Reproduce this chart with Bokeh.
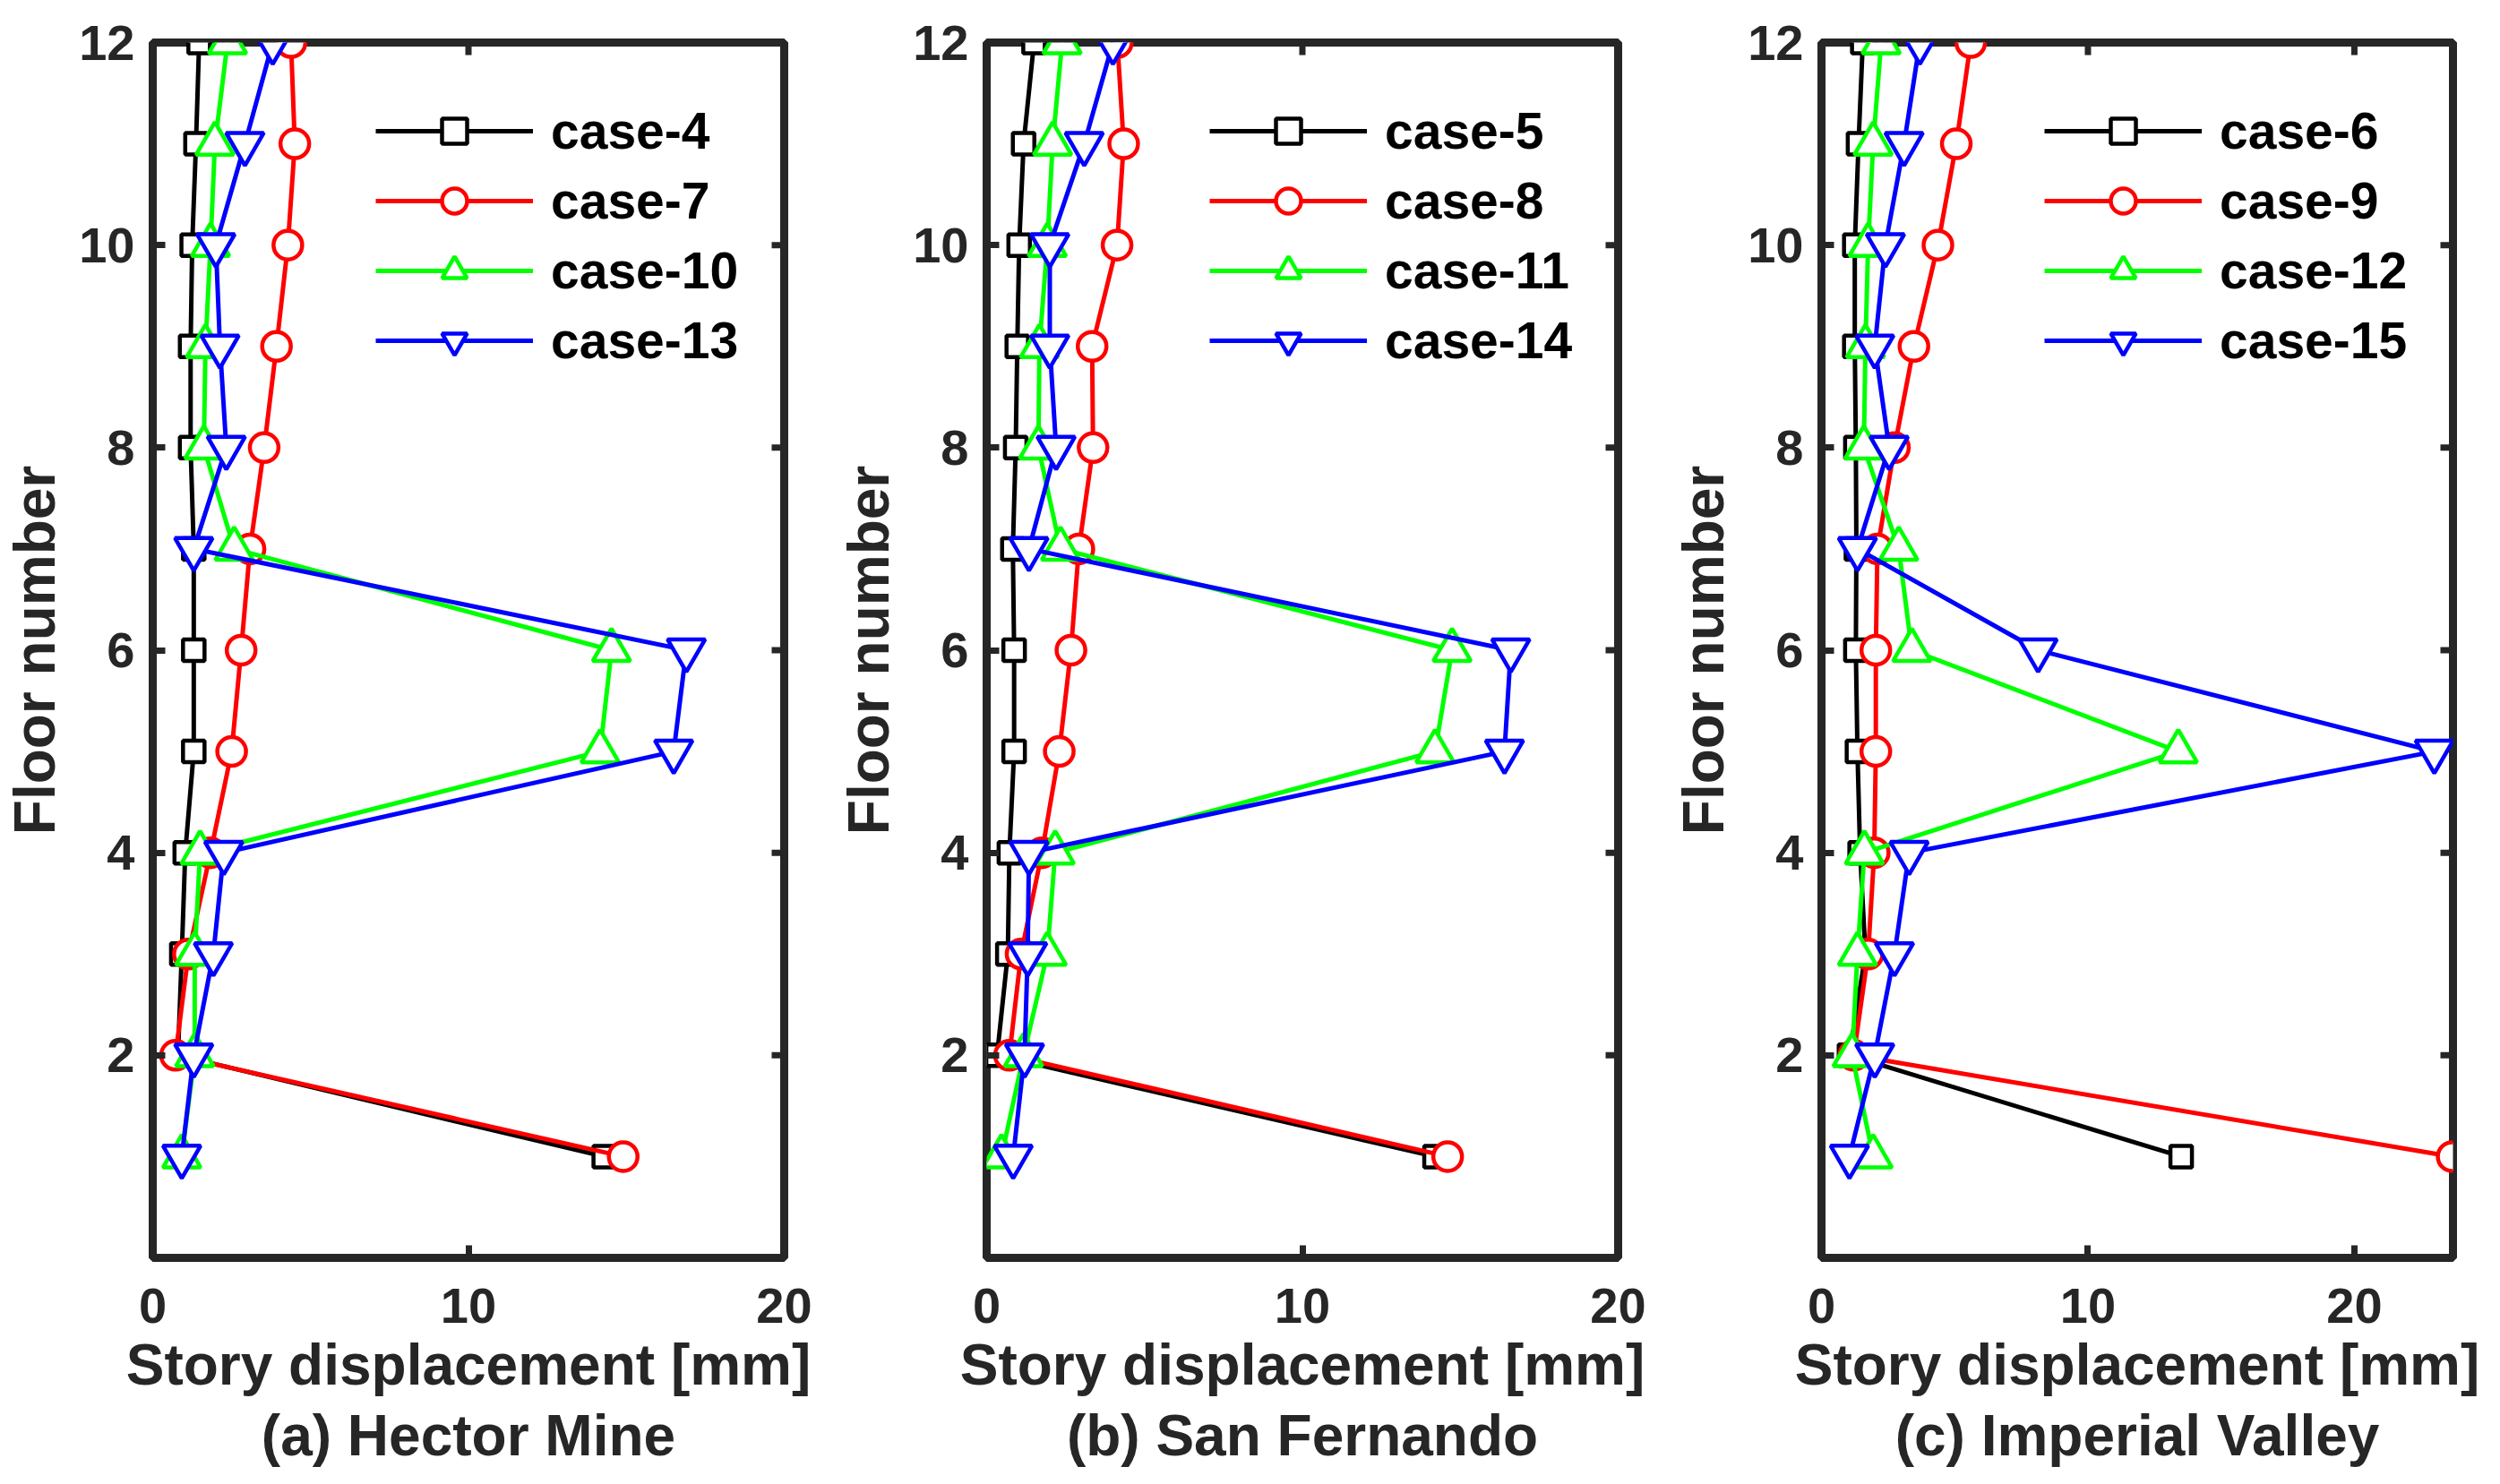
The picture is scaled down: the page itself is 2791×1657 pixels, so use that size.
import math
from bokeh.plotting import figure
from bokeh.models import Title, FixedTicker, Range1d
from bokeh.layouts import row
from bokeh.embed import file_html
from bokeh.resources import INLINE

floors = [12, 11, 10, 9, 8, 7, 6, 5, 4, 3, 2, 1]
y_ticks = [2, 4, 6, 8, 10, 12]
x_ticks = [0, 10, 20]

# (a) Hector Mine
case4 = [1.47, 1.37, 1.25, 1.20, 1.20, 1.30, 1.30, 1.30, 1.03, 0.92, 0.80, 14.3]
case7 = [4.38, 4.50, 4.28, 3.92, 3.53, 3.08, 2.80, 2.50, 1.83, 1.13, 0.72, 14.9]
case10 = [2.37, 1.97, 1.83, 1.67, 1.62, 2.58, 14.53, 14.17, 1.50, 1.33, 1.33, 0.92]
case13 = [3.80, 2.92, 2.00, 2.13, 2.33, 1.30, 16.9, 16.5, 2.25, 1.92, 1.30, 0.92]

# (b) San Fernando
case5 = [1.50, 1.17, 1.03, 0.97, 0.92, 0.83, 0.87, 0.87, 0.72, 0.67, 0.33, 14.2]
case8 = [4.14, 4.34, 4.13, 3.34, 3.37, 2.92, 2.67, 2.30, 1.75, 1.09, 0.72, 14.6]
case11 = [2.39, 2.09, 1.92, 1.67, 1.64, 2.34, 14.74, 14.2, 2.17, 1.92, 1.17, 0.47]
case14 = [4.00, 3.09, 2.00, 2.00, 2.20, 1.34, 16.6, 16.4, 1.34, 1.30, 1.20, 0.84]

# (c) Imperial Valley
case6 = [1.55, 1.39, 1.25, 1.25, 1.29, 1.31, 1.29, 1.35, 1.45, 1.65, 1.05, 13.5]
case9 = [5.60, 5.06, 4.37, 3.47, 2.74, 2.10, 2.04, 2.04, 1.98, 1.75, 1.21, 23.67]
case12 = [2.24, 1.94, 1.75, 1.65, 1.59, 2.90, 3.39, 13.39, 1.61, 1.35, 1.15, 1.94]
case15 = [3.69, 3.10, 2.40, 2.00, 2.54, 1.35, 8.13, 23.0, 3.29, 2.74, 2.00, 1.05]

FONT = "Liberation Sans"
AX = "#262626"

styles = [("#000000", "square", 24), ("#FF0000", "circle", 32),
          ("#00FF00", "triangle", 42), ("#0000FF", "inverted_triangle", 42)]


def make_panel(labels, values, title, xmax, bl, br):
    p = figure(frame_width=705, frame_height=1357,
               x_range=Range1d(0, xmax), y_range=Range1d(0, 12),
               output_backend="svg", toolbar_location=None,
               min_border_left=bl, min_border_right=br,
               min_border_top=47, min_border_bottom=200)
    p.xgrid.visible = False
    p.ygrid.visible = False
    p.outline_line_color = AX
    p.outline_line_width = 9
    p.background_fill_color = "white"
    p.border_fill_color = "white"

    for lab, vals, (col, mk, sz) in zip(labels, values, styles):
        p.line(vals, floors, line_color=col, line_width=5, legend_label=lab)
        p.scatter(vals, floors, marker=mk, size=sz, line_color=col, line_width=4.5,
                  fill_color="white", legend_label=lab)

    # inward tick marks on the top and right edges of the box
    p.scatter(x_ticks, [12] * len(x_ticks), marker="dash", angle=math.pi / 2,
              size=28, line_color=AX, line_width=7)
    p.scatter([xmax] * len(y_ticks), y_ticks, marker="dash",
              size=28, line_color=AX, line_width=7)

    xa = p.xaxis[0]
    ya = p.yaxis[0]
    xa.ticker = FixedTicker(ticks=x_ticks)
    ya.ticker = FixedTicker(ticks=y_ticks)
    for ax in (xa, ya):
        ax.axis_line_color = None
        ax.major_tick_in = 14
        ax.major_tick_out = 0
        ax.major_tick_line_color = AX
        ax.major_tick_line_width = 7
        ax.minor_tick_line_color = None
        ax.major_label_text_font = FONT
        ax.major_label_text_font_style = "bold"
        ax.major_label_text_font_size = "56px"
        ax.major_label_text_color = AX
        ax.axis_label_text_font = FONT
        ax.axis_label_text_font_style = "bold"
        ax.axis_label_text_font_size = "64px"
        ax.axis_label_text_color = AX

    xa.axis_label = "Story displacement [mm]"
    xa.major_label_standoff = 34
    xa.axis_label_standoff = 8
    ya.axis_label = "Floor number"
    ya.major_label_standoff = 20
    ya.axis_label_standoff = 10

    p.add_layout(Title(text=title, align="center", text_font=FONT,
                       text_font_style="bold", text_font_size="64px",
                       text_color=AX, standoff=4), "below")

    lg = p.legend[0]
    lg.location = (249, 989)
    lg.margin = 0
    lg.padding = 0
    lg.border_line_color = None
    lg.background_fill_alpha = 0
    lg.glyph_width = 176
    lg.glyph_height = 70
    lg.spacing = 8
    lg.label_standoff = 20
    lg.label_text_font = FONT
    lg.label_text_font_style = "bold"
    lg.label_text_font_size = "57px"
    lg.label_text_color = "#000000"
    return p


pa = make_panel(["case-4", "case-7", "case-10", "case-13"], [case4, case7, case10, case13],
                "(a) Hector Mine", 20, 167, 56)
pb = make_panel(["case-5", "case-8", "case-11", "case-14"], [case5, case8, case11, case14],
                "(b) San Fernando", 20, 168, 55)
pc = make_panel(["case-6", "case-9", "case-12", "case-15"], [case6, case9, case12, case15],
                "(c) Imperial Valley", 23.7, 172, 45)

layout = row(pa, pb, pc)
open("out.html", "w").write(file_html(layout, INLINE))
